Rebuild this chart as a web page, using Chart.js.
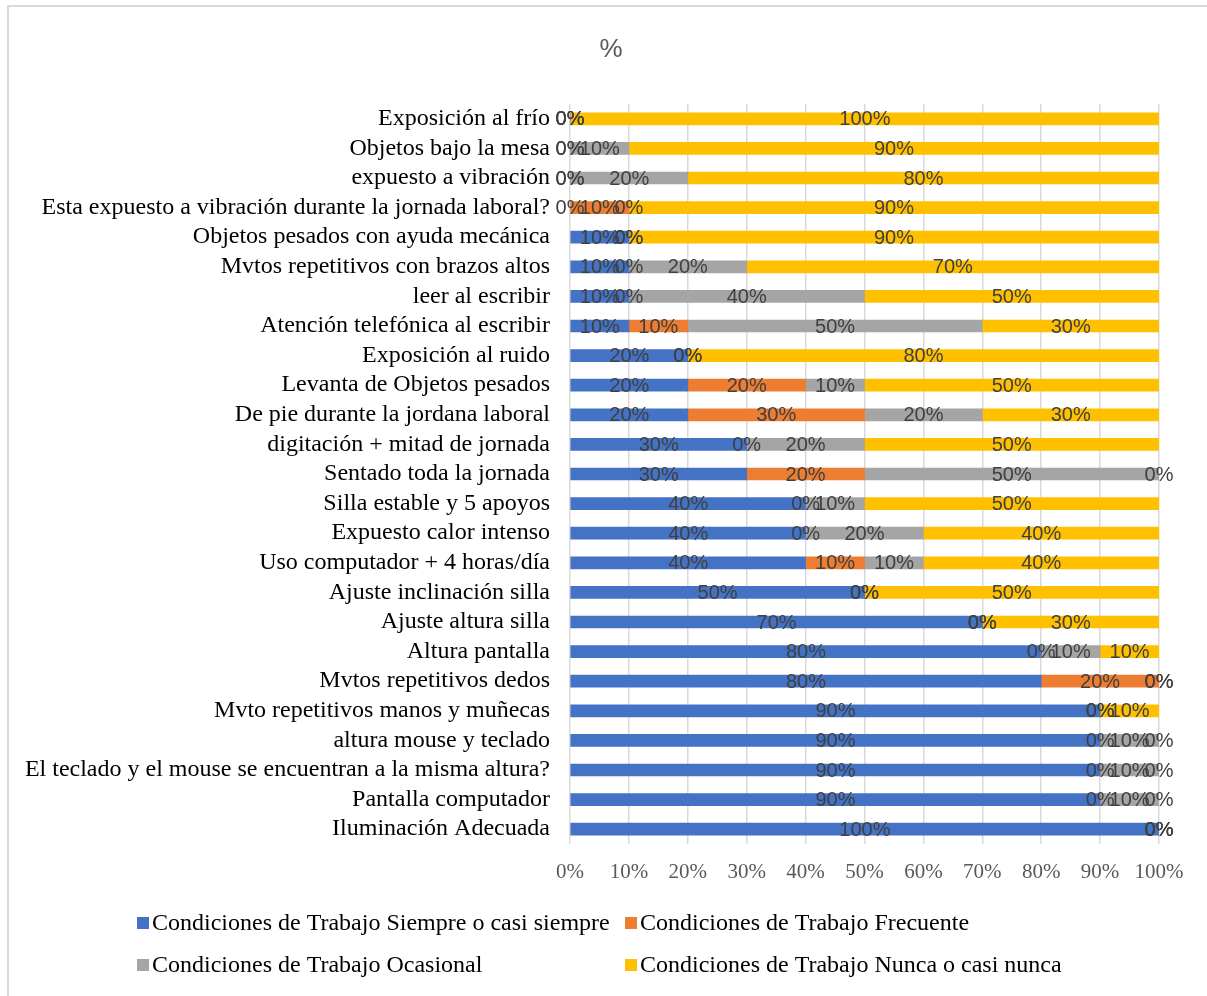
<!DOCTYPE html>
<html>
<head>
<meta charset="utf-8">
<script src="https://cdn.jsdelivr.net/npm/chart.js@4.4.1/dist/chart.umd.min.js"></script>
<style>
  html, body { margin: 0; padding: 0; background: #fff; }
  #wrap { width: 1207px; height: 996px; }
</style>
</head>
<body>
<div id="wrap"><canvas id="chart" width="1207" height="996"></canvas></div>
<script>
// categorías (de arriba hacia abajo)
const CATEGORIES = [
  'Exposición al frío',
  'Objetos bajo la mesa',
  'expuesto a vibración',
  'Esta expuesto a vibración durante la jornada laboral?',
  'Objetos pesados con ayuda mecánica',
  'Mvtos repetitivos con brazos altos',
  'leer al escribir',
  'Atención telefónica al escribir',
  'Exposición al ruido',
  'Levanta de Objetos pesados',
  'De pie durante la jordana laboral',
  'digitación + mitad de jornada',
  'Sentado toda la jornada',
  'Silla estable y 5 apoyos',
  'Expuesto calor intenso',
  'Uso computador + 4 horas/día',
  'Ajuste inclinación silla',
  'Ajuste altura silla',
  'Altura pantalla',
  'Mvtos repetitivos dedos',
  'Mvto repetitivos manos y muñecas',
  'altura mouse y teclado',
  'El teclado y el mouse se encuentran a la misma altura?',
  'Pantalla computador',
  'Iluminación Adecuada'
];

// porcentajes por serie
const SIEMPRE    = [0, 0, 0, 0, 10, 10, 10, 10, 20, 20, 20, 30, 30, 40, 40, 40, 50, 70, 80, 80, 90, 90, 90, 90, 100];
const FRECUENTE  = [0, 0, 0, 10, 0, 0, 0, 10, 0, 20, 30, 0, 20, 0, 0, 10, 0, 0, 0, 20, 0, 0, 0, 0, 0];
const OCASIONAL  = [0, 10, 20, 0, 0, 20, 40, 50, 0, 10, 20, 20, 50, 10, 20, 10, 0, 0, 10, 0, 0, 10, 10, 10, 0];
const NUNCA      = [100, 90, 80, 90, 90, 70, 50, 30, 80, 50, 30, 50, 0, 50, 40, 40, 50, 30, 10, 0, 10, 0, 0, 0, 0];

const X_TICKS = [0, 10, 20, 30, 40, 50, 60, 70, 80, 90, 100];

const SERIES_LABELS = [
  'Condiciones de Trabajo Siempre o casi siempre',
  'Condiciones de Trabajo Frecuente',
  'Condiciones de Trabajo Ocasional',
  'Condiciones de Trabajo Nunca o casi nunca'
];
const COLORS = ['#4472C4', '#ED7D31', '#A5A5A5', '#FFC000'];

const SERIF = "'Liberation Serif', 'Times New Roman', serif";
const SANS = "'Liberation Sans', Arial, sans-serif";

// etiquetas de valor centradas en cada segmento
const valueLabels = {
  id: 'valueLabels',
  afterDatasetsDraw(chart) {
    const ctx = chart.ctx;
    ctx.save();
    ctx.font = '20px ' + SANS;
    ctx.fillStyle = '#404040';
    ctx.textAlign = 'center';
    ctx.textBaseline = 'middle';
    chart.data.datasets.forEach((ds, i) => {
      const meta = chart.getDatasetMeta(i);
      meta.data.forEach((el, j) => {
        const { x, y, base } = el.getProps(['x', 'y', 'base'], true);
        ctx.fillText(ds.data[j] + '%', (x + base) / 2, y + 1);
      });
    });
    ctx.restore();
  }
};

// título, leyenda en dos columnas y marco
const decor = {
  id: 'decor',
  afterDraw(chart) {
    const ctx = chart.ctx;
    ctx.save();
    ctx.font = '26px ' + SANS;
    ctx.fillStyle = '#595959';
    ctx.textAlign = 'center';
    ctx.textBaseline = 'middle';
    ctx.fillText('%', 611, 50);

    const cols = [137, 625];
    const rows = [923, 965];
    ctx.font = '24px ' + SERIF;
    ctx.textAlign = 'left';
    chart.data.datasets.forEach((ds, i) => {
      const x = cols[i % 2];
      const y = rows[Math.floor(i / 2)];
      ctx.fillStyle = ds.backgroundColor;
      ctx.fillRect(x, y - 6, 12, 12);
      ctx.fillStyle = '#000';
      ctx.fillText(ds.label, x + 15, y + 1);
    });

    ctx.strokeStyle = '#d9d9d9';
    ctx.lineWidth = 2;
    ctx.beginPath();
    ctx.moveTo(8, 996);
    ctx.lineTo(8, 6);
    ctx.lineTo(1207, 6);
    ctx.stroke();
    ctx.restore();
  }
};

const seriesData = [SIEMPRE, FRECUENTE, OCASIONAL, NUNCA];

new Chart(document.getElementById('chart'), {
  type: 'bar',
  data: {
    labels: CATEGORIES,
    datasets: seriesData.map((d, i) => ({
      label: SERIES_LABELS[i],
      data: d,
      backgroundColor: COLORS[i],
      borderWidth: 0,
      barThickness: 12
    }))
  },
  plugins: [valueLabels, decor],
  options: {
    indexAxis: 'y',
    responsive: false,
    animation: false,
    devicePixelRatio: 1,
    layout: { padding: { left: 8, right: 48, top: 104, bottom: 112 } },
    scales: {
      x: {
        stacked: true,
        min: 0,
        max: 100,
        afterBuildTicks: (scale) => { scale.ticks = X_TICKS.map(v => ({ value: v })); },
        afterFit: (scale) => { scale.height = 40; },
        ticks: {
          callback: (v) => v + '%',
          color: '#595959',
          font: { family: SERIF, size: 21 },
          padding: 16,
          maxRotation: 0
        },
        grid: { color: '#d9d9d9', lineWidth: 1.5, drawTicks: false },
        border: { display: false }
      },
      y: {
        stacked: true,
        afterFit: (scale) => { scale.width = 562; },
        ticks: {
          color: '#000',
          font: { family: SERIF, size: 24 },
          padding: 20,
          autoSkip: false
        },
        grid: { display: false, drawTicks: false },
        border: { display: false }
      }
    },
    plugins: {
      legend: { display: false },
      tooltip: { enabled: false },
      title: { display: false }
    }
  }
});
</script>
</body>
</html>
